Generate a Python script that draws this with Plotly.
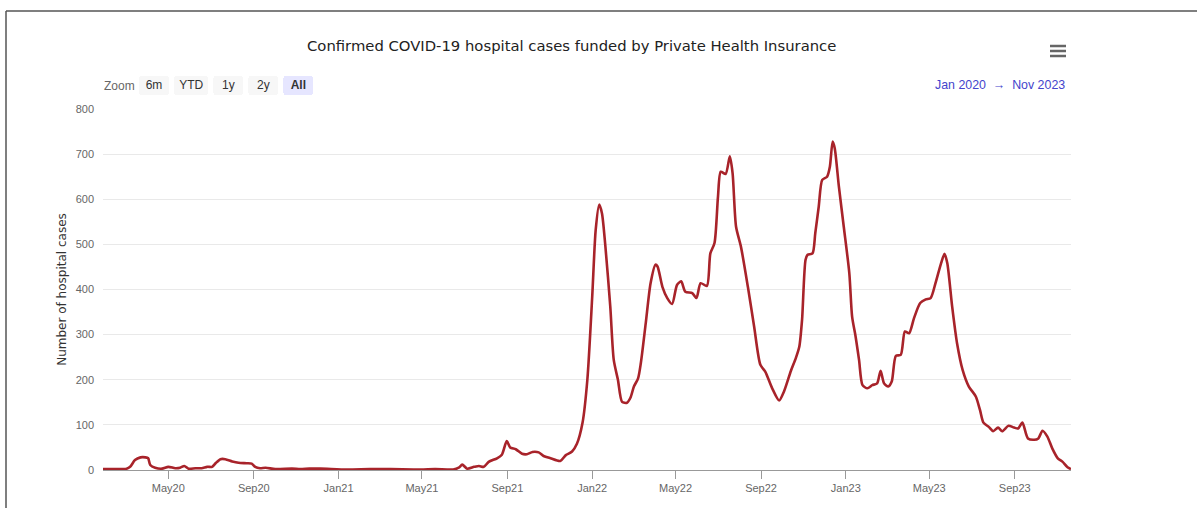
import plotly.graph_objects as go

# Weekly confirmed COVID-19 hospital cases funded by private health insurance
dates = [
    "2020-01-28", "2020-02-15", "2020-03-02", "2020-03-07", "2020-03-14", "2020-03-22",
    "2020-03-29", "2020-04-02", "2020-04-05", "2020-04-12", "2020-04-22", "2020-05-01",
    "2020-05-11", "2020-05-18", "2020-05-24", "2020-05-30", "2020-06-09", "2020-06-18",
    "2020-06-26", "2020-07-03", "2020-07-08", "2020-07-15", "2020-07-22", "2020-08-01",
    "2020-08-10", "2020-08-22", "2020-08-29", "2020-09-03", "2020-09-10", "2020-09-18",
    "2020-10-02", "2020-10-26", "2020-11-07", "2020-11-20", "2020-12-06", "2021-01-13",
    "2021-02-15", "2021-03-17", "2021-04-29", "2021-05-20", "2021-06-15", "2021-06-23",
    "2021-06-28", "2021-07-05", "2021-07-15", "2021-07-22", "2021-07-29", "2021-08-05",
    "2021-08-17", "2021-08-24", "2021-08-31", "2021-09-05", "2021-09-13", "2021-09-22",
    "2021-09-29", "2021-10-07", "2021-10-16", "2021-10-23", "2021-11-02", "2021-11-16",
    "2021-11-24", "2021-12-03", "2021-12-10", "2021-12-18", "2021-12-25", "2022-01-01",
    "2022-01-06", "2022-01-11", "2022-01-15", "2022-01-20", "2022-01-27", "2022-02-01",
    "2022-02-07", "2022-02-13", "2022-02-20", "2022-02-25", "2022-03-02", "2022-03-08",
    "2022-03-12", "2022-03-19", "2022-03-26", "2022-04-02", "2022-04-05", "2022-04-12",
    "2022-04-19", "2022-04-26", "2022-05-03", "2022-05-09", "2022-05-15", "2022-05-25",
    "2022-05-31", "2022-06-06", "2022-06-15", "2022-06-20", "2022-06-26", "2022-07-01",
    "2022-07-05", "2022-07-12", "2022-07-18", "2022-07-22", "2022-07-27", "2022-08-03",
    "2022-08-13", "2022-08-22", "2022-08-31", "2022-09-07", "2022-09-17", "2022-09-27",
    "2022-10-04", "2022-10-14", "2022-10-21", "2022-10-26", "2022-10-30", "2022-11-04",
    "2022-11-07", "2022-11-14", "2022-11-18", "2022-11-23", "2022-11-28", "2022-12-05",
    "2022-12-09", "2022-12-13", "2022-12-16", "2022-12-22", "2022-12-29", "2023-01-06",
    "2023-01-10", "2023-01-15", "2023-01-20", "2023-01-25", "2023-02-01", "2023-02-08",
    "2023-02-15", "2023-02-20", "2023-02-25", "2023-03-03", "2023-03-08", "2023-03-14",
    "2023-03-21", "2023-03-27", "2023-04-02", "2023-04-09", "2023-04-18", "2023-04-26",
    "2023-05-03", "2023-05-10", "2023-05-18", "2023-05-23", "2023-05-27", "2023-06-03",
    "2023-06-10", "2023-06-18", "2023-06-27", "2023-07-07", "2023-07-13", "2023-07-18",
    "2023-07-26", "2023-08-01", "2023-08-08", "2023-08-14", "2023-08-23", "2023-08-31",
    "2023-09-06", "2023-09-12", "2023-09-20", "2023-09-29", "2023-10-05", "2023-10-11",
    "2023-10-18", "2023-10-25", "2023-11-02", "2023-11-09", "2023-11-16", "2023-11-21",
]
cases = [
    2, 2, 3, 7, 22, 28,
    28, 26, 11, 5, 3, 7,
    4, 5, 9, 3, 4, 4,
    7, 7, 15, 24, 24, 19,
    16, 15, 14, 7, 4, 5,
    2, 3, 2, 3, 3, 1,
    2, 2, 1, 2, 1, 5,
    12, 3, 7, 9, 7, 18,
    26, 34, 64, 50, 46, 36,
    35, 40, 39, 31, 26, 20,
    33, 41, 58, 104, 200, 384,
    532, 588, 569, 495, 362, 244,
    200, 151, 149, 160, 185, 203,
    237, 325, 414, 455, 451, 406,
    381, 368, 410, 418, 395, 392,
    381, 414, 408, 480, 503, 606,
    661, 656, 695, 658, 539, 495,
    406, 318, 233, 218, 181, 154,
    174, 220, 248, 273, 333, 466,
    477, 480, 525, 584, 643, 650,
    672, 728, 713, 628, 539, 436,
    340, 296, 244, 188, 181, 188,
    192, 220, 192, 185, 196, 253,
    255, 307, 303, 336, 370, 378,
    381, 414, 458, 479, 458, 362,
    281, 222, 185, 163, 133, 105,
    95, 86, 94, 86, 98, 94,
    92, 105, 70, 67, 70, 87,
    74, 48, 26, 18, 6, 2,
]

tick_dates = ["2020-05-01", "2020-09-01", "2021-01-01", "2021-05-01", "2021-09-01",
              "2022-01-01", "2022-05-01", "2022-09-01", "2023-01-01", "2023-05-01",
              "2023-09-01"]
tick_labels = ["May20", "Sep20", "Jan21", "May21", "Sep21", "Jan22", "May22",
               "Sep22", "Jan23", "May23", "Sep23"]
y_ticks = [0, 100, 200, 300, 400, 500, 600, 700, 800]

W, H = 1197, 508
L, R, T, B = 103, 1071, 109, 470  # plot area in pixels


def px(x):
    return (x - L) / (R - L)


def py(y):
    return (B - y) / (B - T)


fig = go.Figure()
fig.add_trace(go.Scatter(
    x=dates, y=cases, mode="lines",
    line=dict(color="#a8232a", width=2.6, shape="spline", smoothing=0.7),
    name="Cases", hoverinfo="x+y",
))

axis_font = dict(family="Liberation Sans, Arial, sans-serif", size=11, color="#666666")

shapes = [
    # frame edges
    dict(type="line", xref="paper", yref="paper", x0=px(6), x1=px(1197), y0=py(11), y1=py(11),
         line=dict(color="#555555", width=1.5)),
    dict(type="line", xref="paper", yref="paper", x0=px(6), x1=px(6), y0=py(11), y1=py(508),
         line=dict(color="#555555", width=1.5)),
]
# menu icon
for yy in (46, 51, 56):
    shapes.append(dict(type="line", xref="paper", yref="paper", x0=px(1050), x1=px(1066),
                       y0=py(yy), y1=py(yy), line=dict(color="#666666", width=2.5)))

annotations = [
    dict(text="Confirmed COVID-19 hospital cases funded by Private Health Insurance",
         xref="paper", yref="paper", x=px(571), y=py(46), xanchor="center", yanchor="middle",
         showarrow=False, font=dict(family="DejaVu Sans, sans-serif", size=14.8,
                                    color="#222222", weight=500)),
    dict(text="Zoom", xref="paper", yref="paper", x=px(102), y=py(86), xanchor="left",
         yanchor="middle", showarrow=False,
         font=dict(family="Liberation Sans, Arial, sans-serif", size=12, color="#666666")),
    dict(text="Jan 2020  \u2192  Nov 2023", xref="paper", yref="paper", x=px(1067), y=py(85),
         xanchor="right", yanchor="middle", showarrow=False,
         font=dict(family="Liberation Sans, Arial, sans-serif", size=12.4, color="#4444cc")),
]

fig.update_layout(
    width=W, height=H,
    margin=dict(l=L, r=W - R, t=T, b=H - B, autoexpand=False),
    paper_bgcolor="white", plot_bgcolor="white",
    showlegend=False,
    shapes=shapes, annotations=annotations,
    xaxis=dict(
        type="date", autorange=True,
        tickmode="array", tickvals=tick_dates, ticktext=tick_labels,
        ticks="outside", ticklen=8, tickcolor="#999999", tickwidth=1,
        showline=True, linecolor="#999999", linewidth=1,
        showgrid=False, zeroline=False, tickfont=axis_font,
        rangeselector=dict(
            buttons=[
                dict(count=6, label="6m", step="month", stepmode="backward"),
                dict(count=1, label="YTD", step="year", stepmode="todate"),
                dict(count=1, label="1y", step="year", stepmode="backward"),
                dict(count=2, label="2y", step="year", stepmode="backward"),
                dict(label="<b>All</b>", step="all"),
            ],
            x=px(139), y=py(76), xanchor="left", yanchor="top",
            bgcolor="#f7f7f7", activecolor="#e6e6ff",
            font=dict(family="Liberation Sans, Arial, sans-serif", size=12, color="#333333"),
        ),
    ),
    yaxis=dict(
        range=[0, 800], tickmode="array", tickvals=y_ticks,
        showgrid=True, gridcolor="#e9e9e9", gridwidth=1,
        zeroline=False, showline=False, tickfont=axis_font, ticklabelstandoff=8,
        title=dict(text="Number of hospital cases", standoff=6,
                   font=dict(family="DejaVu Sans, sans-serif", size=12, color="#333333",
                             weight=500)),
    ),
)

fig.write_html("out.html")
